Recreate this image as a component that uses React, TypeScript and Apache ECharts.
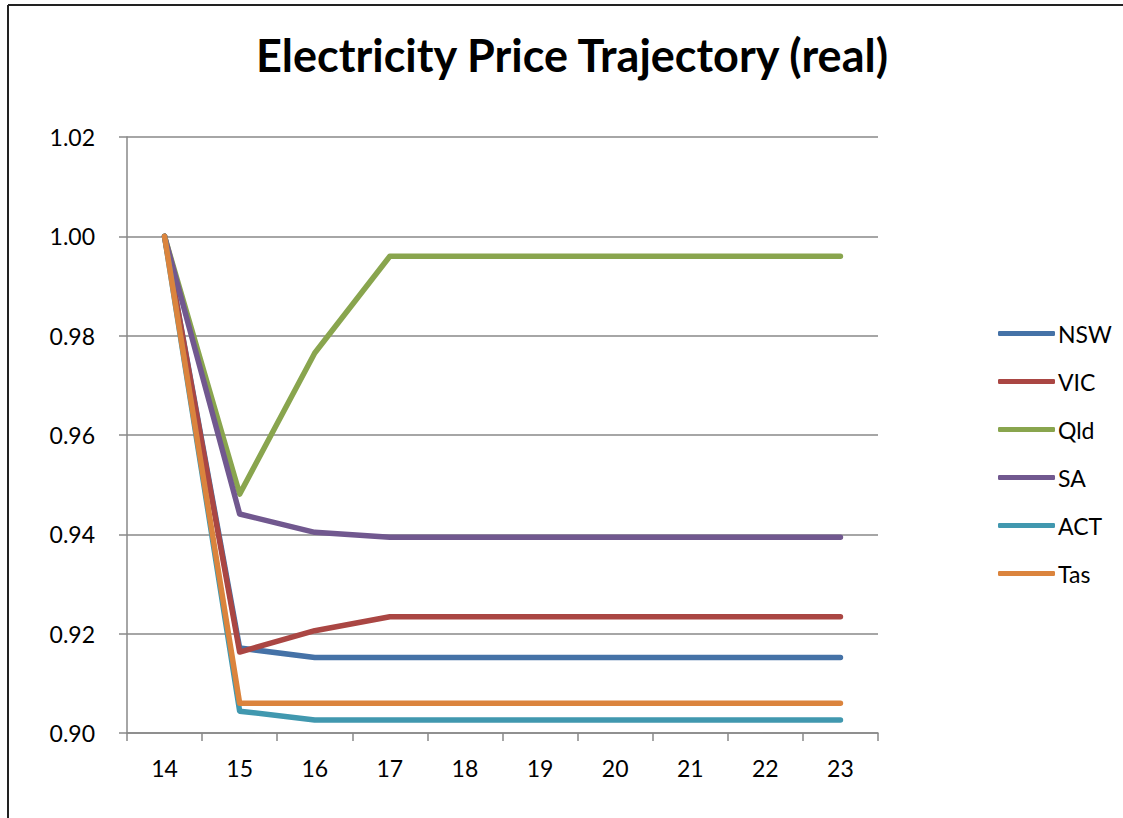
import React, { useEffect, useRef } from "react";
import * as echarts from "echarts";

const categories = ["14", "15", "16", "17", "18", "19", "20", "21", "22", "23"];
const nsw = [1.0, 0.9171, 0.9152, 0.9152, 0.9152, 0.9152, 0.9152, 0.9152, 0.9152, 0.9152];
const vic = [1.0, 0.9163, 0.9206, 0.9234, 0.9234, 0.9234, 0.9234, 0.9234, 0.9234, 0.9234];
const qld = [1.0, 0.9481, 0.9765, 0.996, 0.996, 0.996, 0.996, 0.996, 0.996, 0.996];
const sa = [1.0, 0.9441, 0.9404, 0.9394, 0.9394, 0.9394, 0.9394, 0.9394, 0.9394, 0.9394];
const act = [1.0, 0.9044, 0.9026, 0.9026, 0.9026, 0.9026, 0.9026, 0.9026, 0.9026, 0.9026];
const tas = [1.0, 0.906, 0.906, 0.906, 0.906, 0.906, 0.906, 0.906, 0.906, 0.906];

const seriesNames = ["NSW", "VIC", "Qld", "SA", "ACT", "Tas"];
const seriesData = [nsw, vic, qld, sa, act, tas];
const colors = ["#4572A7", "#AA4643", "#89A54E", "#71588F", "#4198AF", "#DB843D"];

const FONT = "Lato, 'Open Sans', sans-serif";

export default function App() {
  const ref = useRef<HTMLDivElement>(null);
  useEffect(() => {
    if (!ref.current) return;
    const chart = echarts.init(ref.current, null, { renderer: "svg" });
    chart.setOption({
      animation: false,
      backgroundColor: "#ffffff",
      color: colors,
      title: {
        text: "Electricity Price Trajectory (real)",
        left: 567,
        textAlign: "center",
        top: 27,
        textStyle: { fontFamily: FONT, fontWeight: "bold", fontSize: 45, color: "#000" },
      },
      graphic: [
        { type: "line", shape: { x1: 8, y1: 5, x2: 8, y2: 818 }, style: { stroke: "#222", lineWidth: 2 } },
        { type: "line", shape: { x1: 8, y1: 5, x2: 1123, y2: 5 }, style: { stroke: "#222", lineWidth: 2 } },
      ],
      legend: {
        orient: "vertical",
        left: 993,
        top: 315,
        icon: "roundRect",
        itemWidth: 57,
        itemHeight: 5,
        itemGap: 21,
        data: seriesNames,
        textStyle: { fontFamily: FONT, fontSize: 23, lineHeight: 27, color: "#000", padding: [0, 0, 0, -2] },
      },
      grid: { left: 127, right: 245, top: 137, bottom: 85, containLabel: false },
      xAxis: {
        type: "category",
        data: categories,
        boundaryGap: true,
        axisLine: { lineStyle: { color: "#888", width: 1.5 } },
        axisTick: { show: true, length: 8, lineStyle: { color: "#888", width: 1.5 } },
        axisLabel: { margin: 23, fontFamily: FONT, fontSize: 23, color: "#000" },
        splitLine: { show: false },
      },
      yAxis: {
        type: "value",
        min: 0.9,
        max: 1.02,
        interval: 0.02,
        axisLine: { show: true, lineStyle: { color: "#888", width: 1.5 } },
        axisTick: { show: true, length: 8, lineStyle: { color: "#888", width: 1.5 } },
        axisLabel: {
          margin: 32,
          fontFamily: FONT,
          fontSize: 23,
          color: "#000",
          formatter: (v: number) => v.toFixed(2),
        },
        splitLine: { show: true, lineStyle: { color: "#888", width: 1.5 } },
      },
      series: seriesNames.map((name, i) => ({
        name,
        type: "line",
        data: seriesData[i],
        symbol: "none",
        lineStyle: { width: 5.5, color: colors[i], cap: "round", join: "round" },
        itemStyle: { color: colors[i] },
      })),
    });
    return () => chart.dispose();
  }, []);
  return <div ref={ref} style={{ width: 1123, height: 818, position: "absolute", left: 0, top: 0 }} />;
}
